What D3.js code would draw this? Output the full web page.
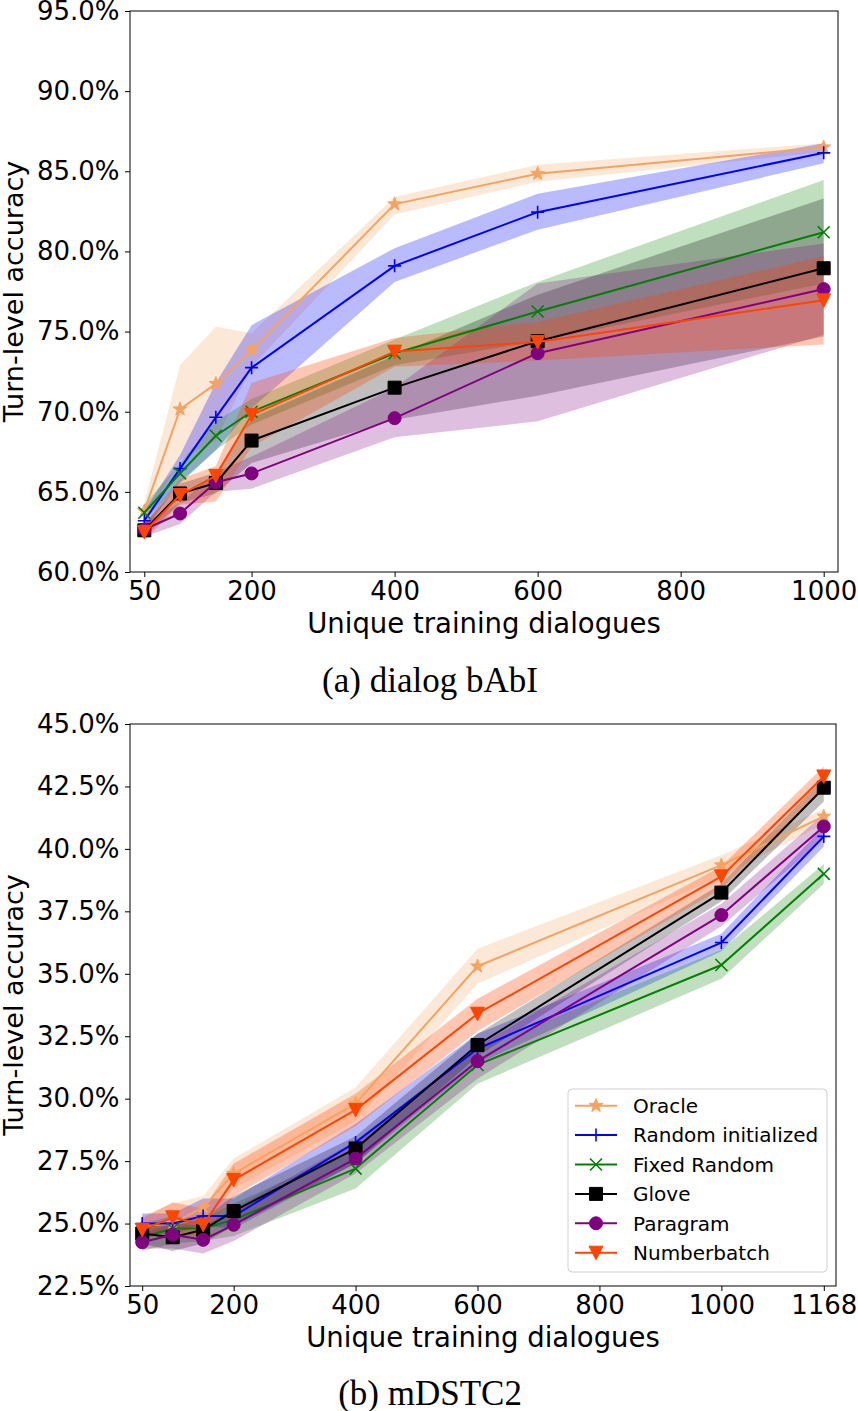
<!DOCTYPE html>
<html><head><meta charset="utf-8">
<script src="https://cdn.jsdelivr.net/npm/d3@7"></script>
<style>body{margin:0;background:#fff} svg{display:block}</style>
</head><body><svg id="c" width="858" height="1411"></svg>
<script>
// ---------- DATA ----------
const seriesNames = ["Oracle", "Random initialized", "Fixed Random", "Glove", "Paragram", "Numberbatch"];

// Panel (a) dialog bAbI
const babiX = [50, 100, 150, 200, 400, 600, 1000];
const babiXTicks = [50, 200, 400, 600, 800, 1000];
const babiYTicks = [60, 65, 70, 75, 80, 85, 90, 95];

const babiOracle     = [63.8, 70.15, 71.75, 73.85, 82.95, 84.85, 86.5];
const babiOracleLo   = [63.2, 67.0, 68.2, 72.8, 82.3, 84.35, 86.2];
const babiOracleHi   = [64.3, 72.9, 75.3, 74.9, 83.4, 85.4, 86.75];
const babiRandom     = [63.2, 66.45, 69.65, 72.75, 79.1, 82.45, 86.15];
const babiRandomLo   = [62.6, 65.6, 67.6, 70.2, 78.1, 81.35, 85.5];
const babiRandomHi   = [63.8, 67.3, 71.8, 75.4, 80.2, 83.6, 86.75];
const babiFixed      = [63.7, 66.15, 68.5, 70.0, 73.65, 76.25, 81.2];
const babiFixedLo    = [63.2, 65.5, 67.6, 69.2, 72.9, 74.4, 78.0];
const babiFixedHi    = [64.2, 66.8, 69.4, 70.8, 74.5, 78.1, 84.45];
const babiGlove      = [62.6, 64.9, 65.55, 68.2, 71.5, 74.4, 78.95];
const babiGloveLo    = [62.2, 64.3, 64.9, 66.8, 69.5, 71.0, 74.7];
const babiGloveHi    = [63.0, 65.5, 66.2, 69.6, 73.5, 77.3, 83.3];
const babiParagram   = [62.65, 63.65, 65.6, 66.15, 69.6, 73.65, 77.65];
const babiParagramLo = [62.2, 63.0, 65.0, 65.2, 68.4, 69.4, 74.8];
const babiParagramHi = [63.1, 64.3, 66.2, 67.2, 71.5, 78.0, 80.5];
const babiNumber     = [62.5, 64.8, 66.0, 69.8, 73.75, 74.35, 76.95];
const babiNumberLo   = [62.0, 64.2, 64.4, 67.8, 72.8, 73.2, 74.2];
const babiNumberHi   = [63.0, 65.8, 66.6, 71.8, 74.6, 75.6, 79.7];

// Panel (b) mDSTC2
const dstcX = [50, 100, 150, 200, 400, 600, 1000, 1168];
const dstcXTicks = [50, 200, 400, 600, 800, 1000, 1168];
const dstcYTicks = [22.5, 25, 27.5, 30, 32.5, 35, 37.5, 40, 42.5, 45];

const dstcOracle     = [24.9, 25.0, 25.65, 27.0, 29.8, 35.3, 39.35, 41.3];
const dstcOracleLo   = [24.4, 24.5, 25.0, 26.4, 29.1, 34.6, 38.9, 41.0];
const dstcOracleHi   = [25.3, 25.8, 26.1, 27.6, 30.45, 36.0, 39.75, 41.6];
const dstcRandom     = [25.0, 25.0, 25.3, 25.3, 28.25, 32.0, 36.25, 40.5];
const dstcRandomLo   = [24.6, 24.6, 24.9, 24.8, 27.4, 31.4, 35.9, 40.1];
const dstcRandomHi   = [25.4, 25.4, 26.0, 26.0, 29.0, 32.6, 36.6, 40.9];
const dstcFixed      = [24.45, 24.8, 24.8, 25.15, 27.2, 31.35, 35.35, 39.0];
const dstcFixedLo    = [23.9, 24.2, 24.3, 24.5, 26.4, 30.6, 34.8, 38.6];
const dstcFixedHi    = [25.0, 25.3, 25.2, 25.8, 28.0, 32.0, 35.95, 39.4];
const dstcGlove      = [24.6, 24.45, 24.75, 25.5, 28.0, 32.15, 38.25, 42.45];
const dstcGloveLo    = [24.2, 23.9, 24.2, 24.9, 27.4, 31.7, 37.9, 41.9];
const dstcGloveHi    = [25.0, 24.9, 25.2, 26.1, 28.5, 32.6, 38.6, 42.85];
const dstcParagram   = [24.25, 24.55, 24.35, 24.95, 27.6, 31.5, 37.35, 40.9];
const dstcParagramLo = [24.0, 24.0, 23.8, 24.3, 27.0, 30.8, 36.9, 40.4];
const dstcParagramHi = [24.6, 25.0, 24.9, 25.6, 28.3, 32.1, 37.8, 41.4];
const dstcNumber     = [24.75, 25.25, 24.95, 26.75, 29.55, 33.4, 38.9, 42.9];
const dstcNumberLo   = [24.4, 24.7, 24.4, 26.1, 28.9, 32.7, 38.4, 42.4];
const dstcNumberHi   = [25.2, 25.85, 25.6, 27.4, 30.2, 34.0, 39.3, 43.3];

// ---------- STYLE ----------
const colors = ["#f4a460", "#0000ff", "#008000", "#000000", "#800080", "#ff4500"];
const markers = ["star", "plus", "x", "square", "circle", "tridown"];
const bandOpacity = [0.25, 0.27, 0.25, 0.25, 0.25, 0.3];

const svg = d3.select("#c");
const SANS = "DejaVu Sans, sans-serif";
const SERIF = "Liberation Serif, Times New Roman, serif";

function markerPath(type) {
  const p = d3.path();
  if (type === "star") {
    for (let i = 0; i < 10; i++) {
      const r = i % 2 === 0 ? 7.2 : 2.9;
      const a = -Math.PI / 2 + i * Math.PI / 5;
      const x = r * Math.cos(a), y = r * Math.sin(a);
      if (i === 0) p.moveTo(x, y); else p.lineTo(x, y);
    }
    p.closePath();
  } else if (type === "plus") {
    p.moveTo(-6.5, 0); p.lineTo(6.5, 0); p.moveTo(0, -6.5); p.lineTo(0, 6.5);
  } else if (type === "x") {
    p.moveTo(-6, -6); p.lineTo(6, 6); p.moveTo(-6, 6); p.lineTo(6, -6);
  } else if (type === "square") {
    p.rect(-6.5, -6.5, 13, 13);
  } else if (type === "circle") {
    p.arc(0, 0, 6.5, 0, 2 * Math.PI);
  } else if (type === "tridown") {
    p.moveTo(-7, -6.5); p.lineTo(7, -6.5); p.lineTo(0, 7); p.closePath();
  }
  return p.toString();
}

function drawMarker(g, type, color, x, y) {
  const stroked = (type === "plus" || type === "x");
  g.append("path")
    .attr("d", markerPath(type))
    .attr("transform", `translate(${x},${y})`)
    .attr("fill", stroked ? "none" : color)
    .attr("stroke", color)
    .attr("stroke-width", stroked ? 1.6 : 1);
}

function drawPanel(cfg) {
  const x = d3.scaleLinear().domain(cfg.xDomain).range([cfg.left, cfg.right]);
  const y = d3.scaleLinear().domain(cfg.yDomain).range([cfg.bottom, cfg.top]);
  const g = svg.append("g");

  const clipId = "clip" + cfg.id;
  svg.append("clipPath").attr("id", clipId)
    .append("rect").attr("x", cfg.left).attr("y", cfg.top)
    .attr("width", cfg.right - cfg.left).attr("height", cfg.bottom - cfg.top);
  const plot = g.append("g").attr("clip-path", `url(#${clipId})`);

  // bands
  cfg.series.forEach((s, i) => {
    const pts = cfg.xs.map((d, k) => ({ x: d, lo: s.lo[k], hi: s.hi[k] }));
    const area = d3.area().x(d => x(d.x)).y0(d => y(d.lo)).y1(d => y(d.hi));
    plot.append("path").attr("d", area(pts))
      .attr("fill", colors[i]).attr("fill-opacity", bandOpacity[i]).attr("stroke", "none");
  });
  // lines + markers
  cfg.series.forEach((s, i) => {
    const pts = cfg.xs.map((d, k) => ({ x: d, v: s.mean[k] }));
    const line = d3.line().x(d => x(d.x)).y(d => y(d.v));
    plot.append("path").attr("d", line(pts))
      .attr("fill", "none").attr("stroke", colors[i]).attr("stroke-width", 2)
      .attr("stroke-linejoin", "round");
    pts.forEach(d => drawMarker(plot, markers[i], colors[i], x(d.x), y(d.v)));
  });

  // axes
  const xAxis = d3.axisBottom(x).tickValues(cfg.xTicks).tickSize(5).tickPadding(5)
    .tickFormat(d3.format("d"));
  const gx = g.append("g").attr("transform", `translate(0,${cfg.bottom})`).call(xAxis);
  const yAxis = d3.axisLeft(y).tickValues(cfg.yTicks).tickSize(5).tickPadding(5.5)
    .tickFormat(d => d3.format(".1f")(d) + "%");
  const gy = g.append("g").attr("transform", `translate(${cfg.left},0)`).call(yAxis);
  [gx, gy].forEach(a => {
    a.select(".domain").remove();
    a.selectAll(".tick line").attr("stroke", "#000").attr("stroke-width", 1);
    a.selectAll(".tick text").attr("font-family", SANS).attr("font-size", 26).attr("fill", "#000");
  });

  // frame
  g.append("rect").attr("x", cfg.left).attr("y", cfg.top)
    .attr("width", cfg.right - cfg.left).attr("height", cfg.bottom - cfg.top)
    .attr("fill", "none").attr("stroke", "#000").attr("stroke-width", 1);

  // labels
  g.append("text").attr("x", (cfg.left + cfg.right) / 2).attr("y", cfg.xLabelY)
    .attr("text-anchor", "middle").attr("font-family", SANS).attr("font-size", 27.5)
    .text("Unique training dialogues");
  g.append("text")
    .attr("transform", `translate(23,${(cfg.top + cfg.bottom) / 2}) rotate(-90)`)
    .attr("text-anchor", "middle").attr("font-family", SANS).attr("font-size", 27)
    .text("Turn-level accuracy");
  g.append("text").attr("x", 430).attr("y", cfg.captionY)
    .attr("text-anchor", "middle").attr("font-family", SERIF).attr("font-size", 35)
    .text(cfg.caption);

  return { x, y, g };
}

drawPanel({
  id: "a", left: 130, right: 838, top: 11, bottom: 572,
  xDomain: [30, 1020], yDomain: [60, 95],
  xs: babiX, xTicks: babiXTicks, yTicks: babiYTicks,
  xLabelY: 633, captionY: 692, caption: "(a) dialog bAbI",
  series: [
    { mean: babiOracle, lo: babiOracleLo, hi: babiOracleHi },
    { mean: babiRandom, lo: babiRandomLo, hi: babiRandomHi },
    { mean: babiFixed, lo: babiFixedLo, hi: babiFixedHi },
    { mean: babiGlove, lo: babiGloveLo, hi: babiGloveHi },
    { mean: babiParagram, lo: babiParagramLo, hi: babiParagramHi },
    { mean: babiNumber, lo: babiNumberLo, hi: babiNumberHi }
  ]
});

const pb = drawPanel({
  id: "b", left: 130, right: 836, top: 724, bottom: 1286,
  xDomain: [30, 1188], yDomain: [22.5, 45],
  xs: dstcX, xTicks: dstcXTicks, yTicks: dstcYTicks,
  xLabelY: 1347, captionY: 1405, caption: "(b) mDSTC2",
  series: [
    { mean: dstcOracle, lo: dstcOracleLo, hi: dstcOracleHi },
    { mean: dstcRandom, lo: dstcRandomLo, hi: dstcRandomHi },
    { mean: dstcFixed, lo: dstcFixedLo, hi: dstcFixedHi },
    { mean: dstcGlove, lo: dstcGloveLo, hi: dstcGloveHi },
    { mean: dstcParagram, lo: dstcParagramLo, hi: dstcParagramHi },
    { mean: dstcNumber, lo: dstcNumberLo, hi: dstcNumberHi }
  ]
});

// legend (panel b)
const lg = pb.g.append("g");
lg.append("rect").attr("x", 568).attr("y", 1089).attr("width", 259).attr("height", 183)
  .attr("rx", 4).attr("fill", "#fff").attr("fill-opacity", 0.8)
  .attr("stroke", "#d0d0d0").attr("stroke-width", 1);
seriesNames.forEach((name, i) => {
  const yy = 1105.7 + i * 29.4;
  lg.append("line").attr("x1", 575).attr("x2", 617).attr("y1", yy).attr("y2", yy)
    .attr("stroke", colors[i]).attr("stroke-width", 2);
  drawMarker(lg, markers[i], colors[i], 596, yy);
  lg.append("text").attr("x", 633).attr("y", yy).attr("dy", "0.36em")
    .attr("font-family", SANS).attr("font-size", 20).text(name);
});
</script></body></html>
